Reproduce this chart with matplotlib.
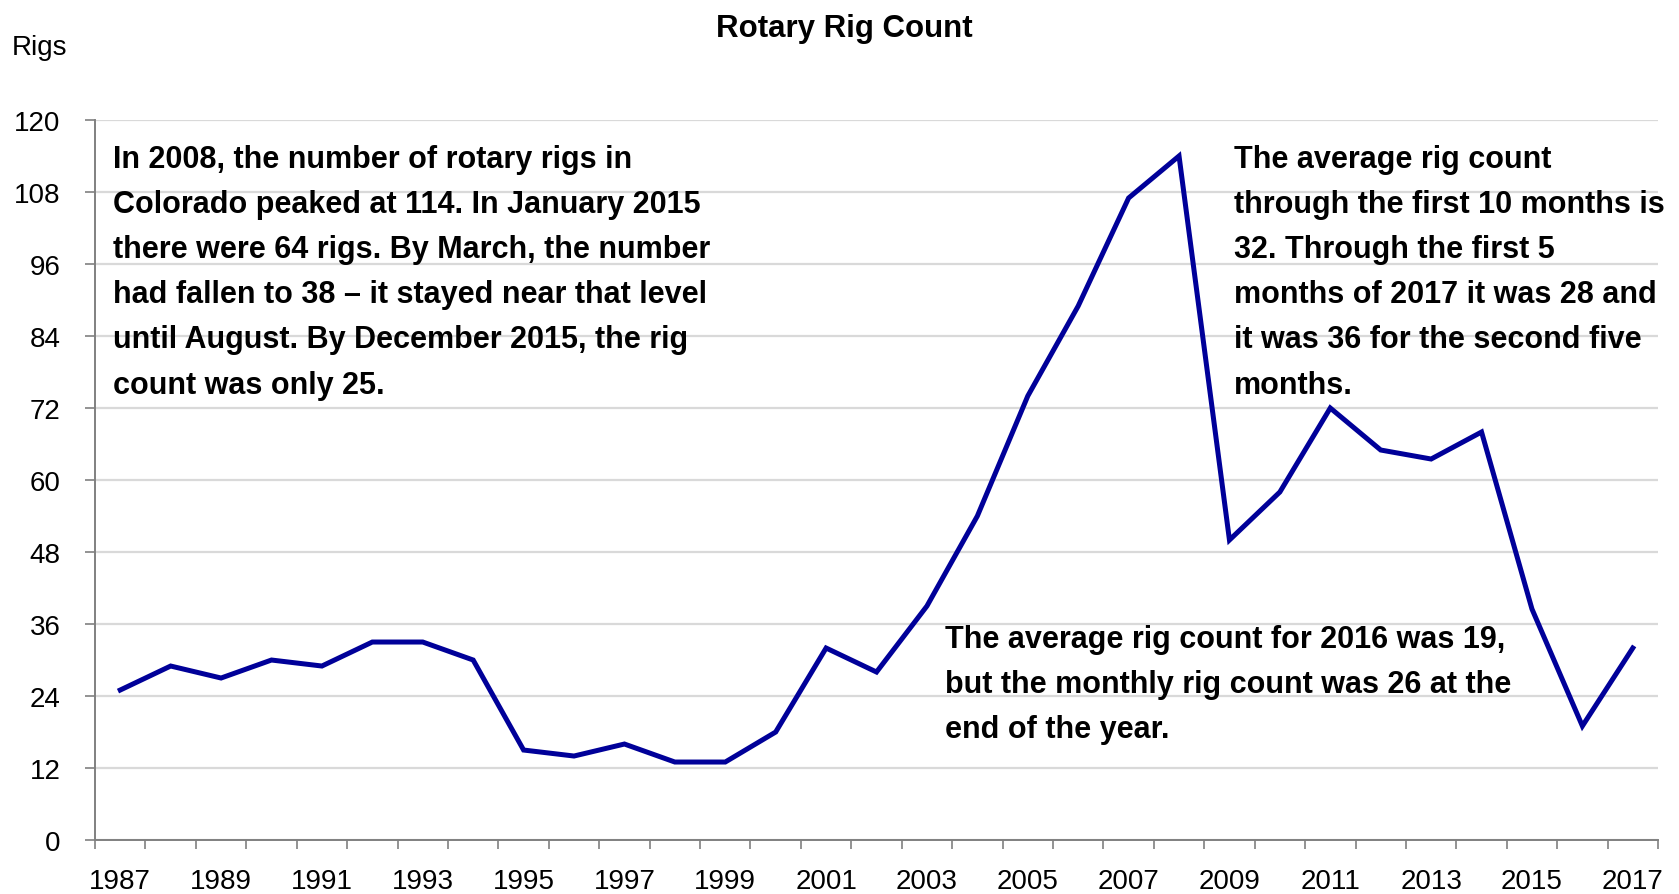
import matplotlib.pyplot as plt
from matplotlib.ticker import MultipleLocator, FixedLocator

# Colorado rotary rig count, annual average
years = list(range(1987, 2018))
rigs = [25, 29, 27, 30, 29, 33, 33, 30, 15, 14, 16, 13, 13, 18, 32, 28,
        39, 54, 74, 89, 107, 114, 50, 58, 72, 65, 63.5, 68, 38.5, 19, 32]
year_labels = [str(y) for y in years[::2]]

note_left = ("In 2008, the number of rotary rigs in\n"
             "Colorado peaked at 114. In January 2015\n"
             "there were 64 rigs. By March, the number\n"
             "had fallen to 38 \u2013 it stayed near that level\n"
             "until August. By December 2015, the rig\n"
             "count was only 25.")
note_right = ("The average rig count\n"
              "through the first 10 months is\n"
              "32. Through the first 5\n"
              "months of 2017 it was 28 and\n"
              "it was 36 for the second five\n"
              "months.")
note_bottom = ("The average rig count for 2016 was 19,\n"
               "but the monthly rig count was 26 at the\n"
               "end of the year.")

plt.rcParams['font.family'] = ['Liberation Sans', 'DejaVu Sans']

fig = plt.figure(figsize=(16.79, 8.95), dpi=100)
ax = fig.add_axes([0.0566, 0.0603, 0.9309, 0.8045])

ax.plot(years, rigs, color='#000099', lw=3.6, solid_joinstyle='miter')

ax.set_xlim(1986.5, 2017.5)
ax.set_ylim(0, 120)
ax.yaxis.set_major_locator(MultipleLocator(12))
ax.grid(axis='y', color='#d9d9d9', lw=1.6)
ax.set_axisbelow(True)

# category axis: tick marks between years, labels on odd years
ax.xaxis.set_major_locator(FixedLocator(years[::2]))
ax.set_xticklabels(year_labels)
ax.xaxis.set_minor_locator(FixedLocator([y - 0.5 for y in years] + [2017.5]))
ax.tick_params(axis='x', which='major', length=0, pad=20, labelsize=20)
ax.tick_params(axis='x', which='minor', length=6.5, color='#808080', width=1.2)
ax.tick_params(axis='y', length=7, color='#808080', width=1.2, labelsize=20, pad=18)

for side in ['top', 'right']:
    ax.spines[side].set_visible(False)
for side in ['left', 'bottom']:
    ax.spines[side].set_color('#808080')
    ax.spines[side].set_linewidth(1.4)

fig.text(0.503, 0.9587, 'Rotary Rig Count', ha='center', va='baseline',
         fontsize=22.5, fontweight='bold')
fig.text(0.007, 0.9385, 'Rigs', ha='left', va='baseline', fontsize=20)

kw = dict(transform=ax.transAxes, va='top', ha='left', fontsize=22,
          fontweight='bold', linespacing=1.66)
ax.text(0.0118, 0.967, note_left, **kw)
ax.text(0.7285, 0.967, note_right, **kw)
ax.text(0.544, 0.30, note_bottom, **kw)

fig.savefig('out.png', dpi=100)
